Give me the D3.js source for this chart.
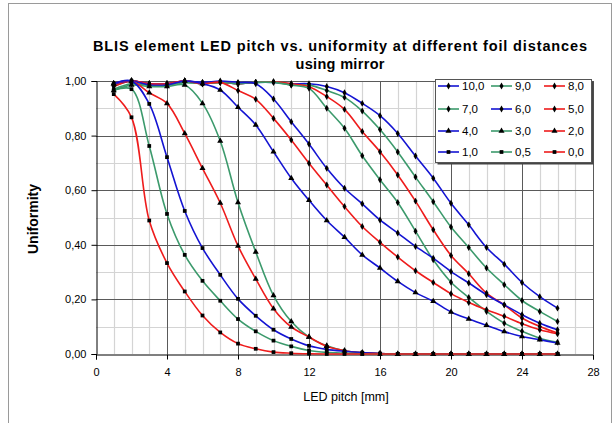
<!DOCTYPE html>
<html><head><meta charset="utf-8">
<script src="https://cdn.jsdelivr.net/npm/d3@7"></script>
<style>body{margin:0;background:#fff}svg{display:block}text{font-family:"Liberation Sans",Arial,sans-serif}</style>
</head><body><svg id="c" width="616" height="423"></svg>
<script>
const pitch = [1,2,3,4,5,6,7,8,9,10,11,12,13,14,15,16,17,18,19,20,21,22,23,24,25,26];
const seriesNames = ["10,0","9,0","8,0","7,0","6,0","5,0","4,0","3,0","2,0","1,0","0,5","0,0"];
const seriesColors = ["blue","green","red","green","blue","red","blue","green","red","blue","green","red"];
const seriesMarkers = ["diamond","diamond","diamond","diamond","diamond","diamond","triangle","triangle","triangle","square","square","square"];
const s10_0 = [0.99,1.00,0.99,0.99,1.00,0.995,0.995,0.99,0.995,0.995,0.99,0.99,0.98,0.957,0.918,0.873,0.808,0.725,0.644,0.552,0.473,0.390,0.329,0.262,0.210,0.168];
const s9_0  = [0.98,1.00,0.985,0.985,0.995,0.99,0.995,0.99,0.995,0.997,0.985,0.985,0.965,0.94,0.89,0.822,0.74,0.648,0.558,0.465,0.390,0.315,0.254,0.196,0.156,0.119];
const s8_0  = [0.99,1.00,0.99,0.99,1.00,0.99,0.995,0.99,0.995,0.997,0.99,0.979,0.943,0.896,0.815,0.741,0.656,0.56,0.455,0.361,0.294,0.223,0.180,0.132,0.101,0.077];
const s7_0  = [0.97,0.99,0.985,0.985,0.995,0.99,0.995,0.99,0.995,0.995,0.985,0.973,0.90,0.827,0.726,0.638,0.555,0.45,0.345,0.263,0.207,0.156,0.113,0.083,0.058,0.043];
const s6_0  = [0.99,1.00,0.99,0.99,1.00,0.995,1.00,0.995,0.99,0.934,0.851,0.769,0.68,0.607,0.55,0.491,0.443,0.394,0.351,0.302,0.260,0.217,0.180,0.144,0.113,0.089];
const s5_0  = [0.98,1.00,0.99,0.99,1.00,0.99,0.995,0.965,0.933,0.863,0.784,0.699,0.619,0.54,0.467,0.409,0.355,0.305,0.262,0.221,0.189,0.162,0.138,0.111,0.089,0.074];
const s4_0  = [0.99,1.00,0.985,0.985,1.00,0.99,0.967,0.904,0.839,0.741,0.644,0.563,0.489,0.428,0.363,0.315,0.266,0.225,0.193,0.154,0.128,0.105,0.082,0.064,0.052,0.040];
const s3_0  = [0.965,0.985,0.98,0.98,0.985,0.918,0.78,0.555,0.374,0.214,0.119,0.062,0.030,0.012,0.005,0.002,0,0,0,0,0,0,0,0,0,0];
const s2_0  = [0.99,1.00,0.957,0.918,0.808,0.68,0.553,0.396,0.275,0.166,0.099,0.062,0.028,0.012,0.005,0.002,0,0,0,0,0,0,0,0,0,0];
const s1_0  = [0.99,1.00,0.916,0.721,0.524,0.388,0.29,0.202,0.14,0.089,0.055,0.030,0.017,0.010,0.005,0.002,0,0,0,0,0,0,0,0,0,0];
const s0_5  = [0.966,0.97,0.762,0.513,0.363,0.268,0.195,0.128,0.083,0.049,0.028,0.013,0.006,0.003,0.001,0,0,0,0,0,0,0,0,0,0,0];
const s0_0  = [0.952,0.867,0.489,0.333,0.229,0.141,0.079,0.038,0.019,0.007,0.003,0.001,0,0,0,0,0,0,0,0,0,0,0,0,0,0];
const seriesValues = [s10_0,s9_0,s8_0,s7_0,s6_0,s5_0,s4_0,s3_0,s2_0,s1_0,s0_5,s0_0];
const xTicks = [0,4,8,12,16,20,24,28];
const yTicks = [0,0.2,0.4,0.6,0.8,1.0];
const titleLines = ["BLIS element LED pitch vs. uniformity at different foil distances","using mirror"];

const colorMap = {blue:"#1414d2", green:"#3c9a6c", red:"#ee1c1c"};
const svg = d3.select("#c");
const L=96, R=593, T=81, B=354;
const x = d3.scaleLinear().domain([0,28]).range([L,R]);
const y = d3.scaleLinear().domain([0,1]).range([B,T]);

// outer border
svg.append("rect").attr("x",8.5).attr("y",3.5).attr("width",603).attr("height",430)
  .attr("fill","#fff").attr("stroke","#9a9a9a").attr("stroke-width",1);

// minor grid
const g = svg.append("g");
g.selectAll(".vx").data(d3.range(1,29).filter(v=>v%4!==0)).join("line")
  .attr("x1",d=>Math.round(x(d))+0.5).attr("x2",d=>Math.round(x(d))+0.5).attr("y1",T).attr("y2",B)
  .attr("stroke","#d4d4d4").attr("stroke-width",1.2);
g.selectAll(".hy").data([0.1,0.3,0.5,0.7,0.9]).join("line")
  .attr("y1",d=>Math.round(y(d))+0.5).attr("y2",d=>Math.round(y(d))+0.5).attr("x1",L).attr("x2",R)
  .attr("stroke","#d4d4d4").attr("stroke-width",1.2);
// major grid
g.selectAll(".vX").data(xTicks.filter(v=>v>0)).join("line")
  .attr("x1",d=>Math.round(x(d))+0.5).attr("x2",d=>Math.round(x(d))+0.5).attr("y1",T).attr("y2",B)
  .attr("stroke","#5a5a5a").attr("stroke-width",1);
g.selectAll(".hY").data(yTicks.filter(v=>v>0)).join("line")
  .attr("y1",d=>Math.round(y(d))+0.5).attr("y2",d=>Math.round(y(d))+0.5).attr("x1",L).attr("x2",R)
  .attr("stroke","#5a5a5a").attr("stroke-width",1);

// axes
const fmt = d => d.toFixed(2).replace(".",",");
const yAxis = svg.append("g").attr("transform",`translate(${L+0.5},0)`)
  .call(d3.axisLeft(y).tickValues(yTicks).tickFormat(fmt).tickSize(5).tickPadding(5));
const xAxis = svg.append("g").attr("transform",`translate(0,${B+0.5})`)
  .call(d3.axisBottom(x).tickValues(xTicks).tickFormat(d3.format("d")).tickSize(5).tickPadding(9));
[yAxis,xAxis].forEach(a=>{
  a.select(".domain").attr("stroke","#000");
  a.selectAll(".tick line").attr("stroke","#000");
  a.selectAll(".tick text").attr("fill","#000").style("font-size","11px").style("font-family","'Liberation Sans',Arial,sans-serif");
});

// lines
const line = d3.line().x((d,i)=>x(pitch[i])).y(d=>y(d)).curve(d3.curveCatmullRom.alpha(0.5));
const sym = {diamond:d3.symbol().type(d3.symbolDiamond).size(14),
             triangle:d3.symbol().type(d3.symbolTriangle).size(16),
             square:d3.symbol().type(d3.symbolSquare).size(14)};
const plot = svg.append("g");
seriesValues.forEach((vals,k)=>{
  const sg = plot.append("g");
  sg.append("path").attr("d",line(vals)).attr("fill","none")
    .attr("stroke",colorMap[seriesColors[k]]).attr("stroke-width",1.6);
  sg.selectAll("path.m").data(vals).join("path").attr("class","m")
    .attr("transform",(d,i)=>`translate(${x(pitch[i])},${y(d)})`)
    .attr("d",sym[seriesMarkers[k]]()).attr("fill","#000");
});

// title
svg.append("text").attr("x",340).attr("y",51).attr("text-anchor","middle")
  .attr("textLength",494).attr("lengthAdjust","spacing")
  .style("font-size","14.5px").style("font-weight","bold").text(titleLines[0]);
svg.append("text").attr("x",340).attr("y",69).attr("text-anchor","middle")
  .attr("textLength",89).attr("lengthAdjust","spacing")
  .style("font-size","14.5px").style("font-weight","bold").text(titleLines[1]);

// axis titles
svg.append("text").attr("transform","translate(38,219) rotate(-90)").attr("text-anchor","middle")
  .style("font-size","14px").style("font-weight","bold").text("Uniformity");
svg.append("text").attr("x",346).attr("y",401).attr("text-anchor","middle")
  .style("font-size","12.5px").text("LED pitch [mm]");

// legend
const lx=435, ly=79, lw=156, lh=83;
svg.append("rect").attr("x",lx+2.5).attr("y",ly+2.5).attr("width",lw).attr("height",lh).attr("fill","#444");
svg.append("rect").attr("x",lx+0.5).attr("y",ly+0.5).attr("width",lw).attr("height",lh)
  .attr("fill","#fff").attr("stroke","#555").attr("stroke-width",1);
const colX=[438,491,544], rowY=[86,109,131,152];
seriesNames.forEach((n,k)=>{
  const cx=colX[k%3], cy=rowY[Math.floor(k/3)];
  const lg=svg.append("g");
  lg.append("line").attr("x1",cx).attr("x2",cx+21).attr("y1",cy).attr("y2",cy)
    .attr("stroke",colorMap[seriesColors[k]]).attr("stroke-width",1.6);
  lg.append("path").attr("transform",`translate(${cx+10.5},${cy})`).attr("d",sym[seriesMarkers[k]]()).attr("fill","#000");
  lg.append("text").attr("x",cx+24).attr("y",cy+4).style("font-size","11.5px").text(n);
});
</script></body></html>
